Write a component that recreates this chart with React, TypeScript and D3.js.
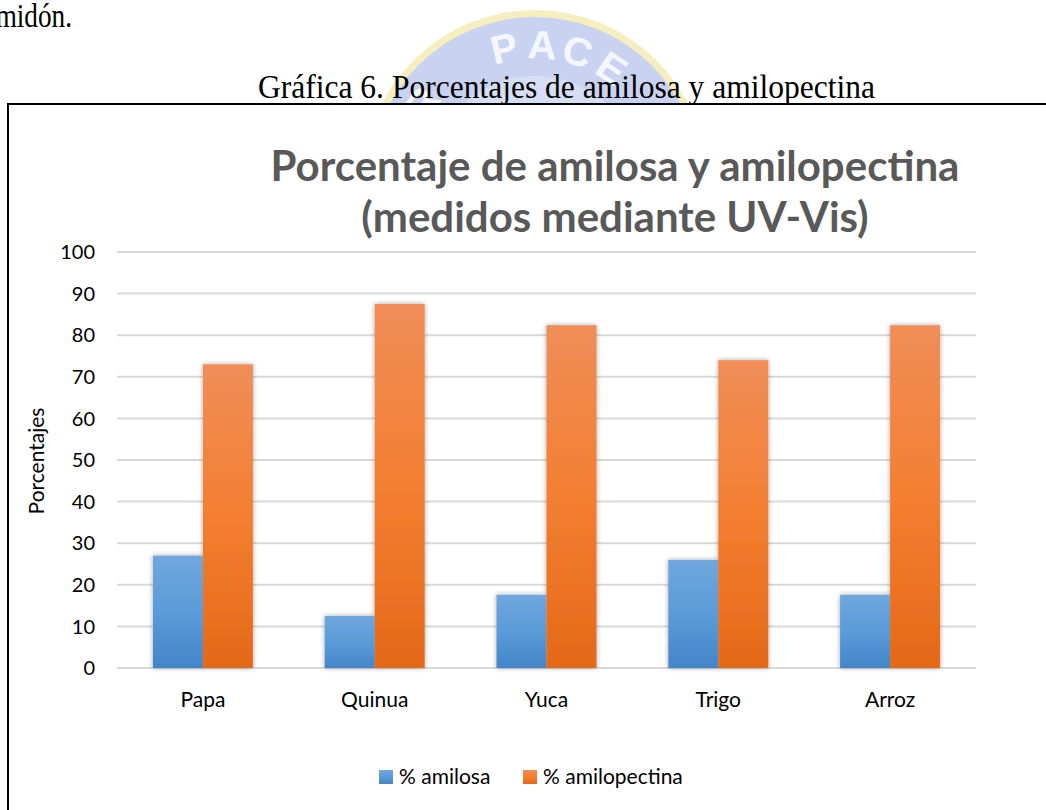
import React from "react";
import * as d3 from "d3";

const categories = ["Papa", "Quinua", "Yuca", "Trigo", "Arroz"];
const amilosa = [27.0, 12.5, 17.6, 26.0, 17.6];
const amilopectina = [73.0, 87.5, 82.4, 74.0, 82.4];
const seriesNames = ["% amilosa", "% amilopectina"];
const yTicks = [0, 10, 20, 30, 40, 50, 60, 70, 80, 90, 100];
const titleLines = ["Porcentaje de amilosa y amilopectina", "(medidos mediante UV-Vis)"];
const caption = "Gráfica 6. Porcentajes de amilosa y amilopectina";
const watermarkLetters = ["R", "P", "A", "C", "E"];

const W = 1046;
const H = 810;
const FONT = "Lato, 'Open Sans', sans-serif";
const SERIF = "'Liberation Serif', 'Times New Roman', serif";

export default function App() {
  const x = d3.scaleBand<string>().domain(categories).range([117, 976]).paddingInner(0).paddingOuter(0);
  const xs = d3.scaleBand<string>().domain(seriesNames).range([0, x.bandwidth()]).paddingInner(0).paddingOuter(0.718);
  const y = d3.scaleLinear().domain([0, 100]).range([668, 252]);
  const data = [amilosa, amilopectina];
  const fills = ["url(#gBlue)", "url(#gOrange)"];

  // watermark geometry
  const cx = 535, cy = 182, r = 172;
  const letterAngles = [-55, -13, 3, 18, 34];

  return (
    <svg width={W} height={H} style={{ position: "absolute", left: 0, top: 0, background: "#fff" }}>
      <defs>
        <linearGradient id="gBlue" x1="0" y1="0" x2="0" y2="1">
          <stop offset="0" stopColor="#70a7dd" />
          <stop offset="0.5" stopColor="#5b9bd9" />
          <stop offset="1" stopColor="#4286c9" />
        </linearGradient>
        <linearGradient id="gOrange" x1="0" y1="0" x2="0" y2="1">
          <stop offset="0" stopColor="#f08d58" />
          <stop offset="0.5" stopColor="#f37f31" />
          <stop offset="1" stopColor="#e46918" />
        </linearGradient>
        <filter id="shadow" x="-20%" y="-5%" width="140%" height="110%">
          <feDropShadow dx="0" dy="0" stdDeviation="2.5" floodColor="#000" floodOpacity="0.35" />
        </filter>
      </defs>

      {/* watermark */}
      <g>
        <circle cx={cx} cy={cy} r={r} fill="#f6eebf" />
        <circle cx={cx} cy={cy} r={r - 7} fill="#c9d3f1" />
        <circle cx={cx} cy={cy} r={r - 66} fill="#d6def5" />
        {watermarkLetters.map((l, i) => {
          const a = (letterAngles[i] * Math.PI) / 180;
          const rr = r - 38;
          const px = cx + rr * Math.sin(a);
          const py = cy - rr * Math.cos(a);
          return (
            <text key={l + i} x={px} y={py} fontFamily="Arial, sans-serif" fontWeight="bold" fontSize={40}
              fill="#f5f7fd" textAnchor="middle" dominantBaseline="middle"
              transform={`rotate(${letterAngles[i]},${px},${py})`}>{l}</text>
          );
        })}
      </g>

      {/* surrounding document text */}
      <text x={72} y={27} textAnchor="end" fontFamily={SERIF} fontSize={33} fill="#000"
        textLength={96} lengthAdjust="spacingAndGlyphs">almidón.</text>
      <text x={258} y={98} fontFamily={SERIF} fontSize={33} fill="#000"
        textLength={617} lengthAdjust="spacingAndGlyphs">{caption}</text>

      {/* chart box */}
      <rect x={8} y={104} width={W + 20} height={H} fill="#fff" stroke="#000" strokeWidth={2} />

      {/* title */}
      {titleLines.map((t, i) => (
        <text key={t} x={615} y={181 + i * 51} textAnchor="middle" fontFamily={FONT} fontWeight="bold" fontSize={42} fill="#595959">{t}</text>
      ))}

      {/* gridlines & y ticks */}
      {yTicks.map((t) => (
        <g key={t}>
          <line x1={117} x2={976} y1={y(t)} y2={y(t)} stroke="#d9d9d9" strokeWidth={2} />
          <text x={95} y={y(t)} dy="0.36em" textAnchor="end" fontFamily={FONT} fontSize={20} fill="#000">{t}</text>
        </g>
      ))}

      {/* bars */}
      {categories.map((c, ci) => (
        <g key={c} filter="url(#shadow)">
          {data.map((s, si) => (
            <rect key={si} x={(x(c) as number) + (xs(seriesNames[si]) as number)} y={y(s[ci])}
              width={xs.bandwidth()} height={y(0) - y(s[ci])} fill={fills[si]} />
          ))}
        </g>
      ))}

      {/* x labels */}
      {categories.map((c) => (
        <text key={c} x={(x(c) as number) + x.bandwidth() / 2} y={707} textAnchor="middle" fontFamily={FONT} fontSize={21} fill="#000">{c}</text>
      ))}

      {/* y axis title */}
      <text transform="translate(44,461) rotate(-90)" textAnchor="middle" fontFamily={FONT} fontSize={21} fill="#000">Porcentajes</text>

      {/* legend */}
      {[379, 523].map((lx, i) => (
        <g key={i}>
          <rect x={lx} y={770} width={14} height={14} fill={fills[i]} />
          <text x={lx + 20} y={784} fontFamily={FONT} fontSize={21} fill="#000">{seriesNames[i]}</text>
        </g>
      ))}
    </svg>
  );
}
